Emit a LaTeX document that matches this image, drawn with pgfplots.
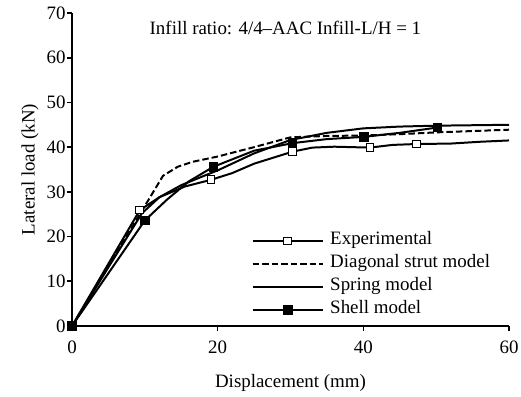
\documentclass[border=0pt]{standalone}
\usepackage{fontspec}
\setmainfont{Liberation Serif}
\usepackage{pgfplots}
\pgfplotsset{compat=1.18}

% Load-displacement curves
\pgfplotstableread{
x y
0 0
9.3 25.9
12 28.8
15.5 31.2
19.1 32.7
22 34.2
25 36.3
30.3 39.0
33 39.9
36 40.1
40.9 39.9
44 40.5
47.3 40.7
52 40.8
56 41.2
60 41.5
}\experimental

\pgfplotstableread{
x y
0 0
9.5 25.5
12.5 33.6
14.5 35.6
16.5 36.7
20 37.9
25 40.0
30 42.2
35 42.5
40 42.6
45 42.9
50 43.3
55 43.6
60 43.9
}\strut

\pgfplotstableread{
x y
0 0
9.6 25.2
12 28.8
15 31.5
18 33.5
20 34.8
25 38.6
30 41.6
35 43.2
40 44.2
45 44.6
50 44.8
55 44.9
60 45.0
}\spring

\pgfplotstableread{
x y
0 0
10 23.6
13 28.2
16 32.3
19.4 35.6
25 39.2
30.3 40.9
35 41.8
40.1 42.3
45 43.2
50.2 44.4
}\shell

\def\fs{\fontsize{19}{22}\selectfont}

\begin{document}
\begin{tikzpicture}
\path[use as bounding box] (0,0) rectangle (521bp,397bp);
\begin{axis}[
  at={(72bp,71bp)}, anchor=origin,
  scale only axis, width=437bp, height=313bp,
  xmin=0, xmax=60, ymin=0, ymax=70,
  axis x line*=bottom, axis y line*=left,
  axis line style={line width=2pt, -},
  tick style={line width=1.6pt, black},
  tick align=outside, major tick length=5bp,
  xtick={0,20,40,60}, ytick={0,10,...,70},
  /pgf/number format/assume math mode=true,
  tick label style={font=\fs},
  xticklabel style={yshift=-6bp},
  yticklabel style={xshift=2bp},
  label style={font=\fs},
  xlabel={Displacement (mm)}, ylabel={Lateral load (kN)},
  xlabel style={yshift=-14bp},
  ylabel style={yshift=1bp},
  clip=false,
  legend style={draw=none, fill=none, at={(axis cs:24.65,21.1)}, anchor=north west,
    font=\fs, row sep=5pt, inner sep=0pt,
    nodes={inner xsep=6.5bp, inner ysep=0pt, text height=13bp, text depth=5bp}},
  legend cell align=left,
  legend image code/.code={\draw[#1, mark indices={2}] plot coordinates {(0bp,0bp) (35bp,0bp) (70bp,0bp)};},
  every axis plot/.append style={line width=2pt, black},
]
\addplot[mark=square*, mark options={fill=white, line width=1pt, solid}, mark size=3.8bp,
  mark indices={2,5,8,11,13}] table {\experimental};
\addlegendentry{Experimental}
\addplot[dash pattern=on 6.5bp off 3bp, no marks] table {\strut};
\addlegendentry{Diagonal strut model}
\addplot[no marks] table {\spring};
\addlegendentry{Spring model}
\addplot[mark=square*, mark options={fill=black, solid}, mark size=3.8bp,
  mark indices={1,2,5,7,9,11}] table {\shell};
\addlegendentry{Shell model}
\node[font=\fs] at (axis cs:29.3,66.6) {Infill ratio: 4/4--AAC Infill-L/H = 1};
\end{axis}
\end{tikzpicture}
\end{document}
